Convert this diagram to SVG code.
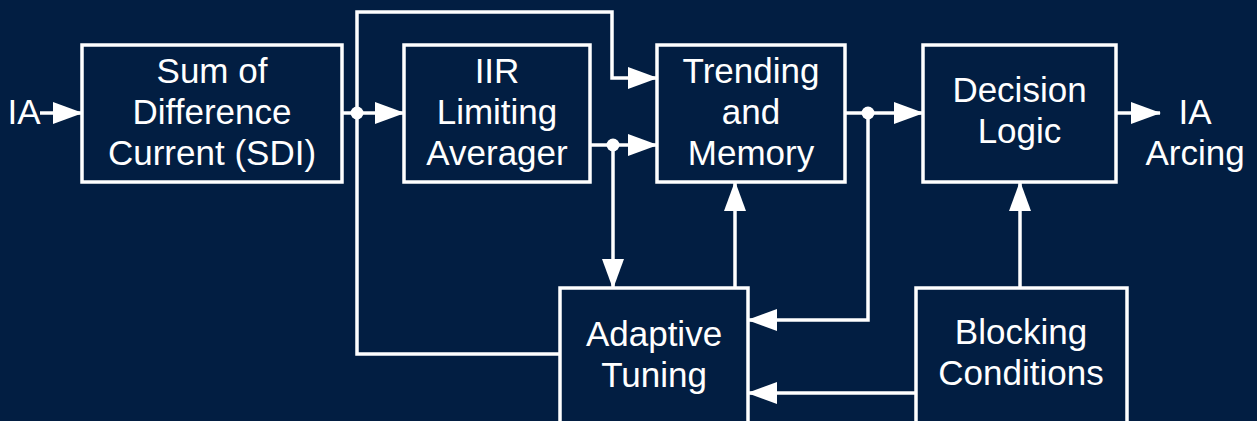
<svg xmlns="http://www.w3.org/2000/svg" width="1257" height="421" viewBox="0 0 1257 421">
<style>
.box{fill:#021E42;stroke:#FFFFFF;stroke-width:3.5}
.t{font-family:"Liberation Sans",Arial,sans-serif;font-size:35px;fill:#FFFFFF;text-anchor:middle}
.c{fill:none;stroke:#FFFFFF;stroke-width:3.5;marker-end:url(#ah)}
.dot{fill:#FFFFFF}
</style>
<defs>
<marker id="ah" markerUnits="userSpaceOnUse" markerWidth="30" markerHeight="22" refX="29" refY="11" orient="auto">
<path d="M0,0 L30,11 L0,22 Z" fill="#FFFFFF"/>
</marker>
</defs>
<rect x="0" y="0" width="1257" height="421" fill="#021E42"/>
<g id="connectors">
<path class="c" d="M40,113 H82"/>
<path class="c" d="M342,113 H404"/>
<path class="c" d="M560,354 H357 V12 H612 V78 H657"/>
<path class="c" d="M590,145 H657"/>
<path class="c" d="M613,145 V288"/>
<path class="c" d="M735,288 V182"/>
<path class="c" d="M845,113 H923"/>
<path class="c" d="M868,113 V320 H748"/>
<path class="c" d="M1116,113 H1160"/>
<path class="c" d="M1020,288 V182"/>
<path class="c" d="M916,393 H748"/>
<circle class="dot" cx="357" cy="113" r="6.5"/>
<circle class="dot" cx="613" cy="145" r="6.5"/>
<circle class="dot" cx="868" cy="113" r="6.5"/>
</g>
<g id="input">
<text class="t" x="24" y="124">IA</text>
</g>
<g id="sdi">
<rect class="box" x="82" y="45" width="260" height="137"/>
<text class="t" x="212" y="83">Sum of</text>
<text class="t" x="212" y="124">Difference</text>
<text class="t" x="212" y="165">Current (SDI)</text>
</g>
<g id="iir">
<rect class="box" x="404" y="45" width="186" height="137"/>
<text class="t" x="497" y="83">IIR</text>
<text class="t" x="497" y="124">Limiting</text>
<text class="t" x="497" y="165">Averager</text>
</g>
<g id="trending">
<rect class="box" x="657" y="45" width="188" height="137"/>
<text class="t" x="751" y="83">Trending</text>
<text class="t" x="751" y="124">and</text>
<text class="t" x="751" y="165">Memory</text>
</g>
<g id="decision">
<rect class="box" x="923" y="45" width="193" height="137"/>
<text class="t" x="1019.5" y="102">Decision</text>
<text class="t" x="1019.5" y="143">Logic</text>
</g>
<g id="output">
<text class="t" x="1195" y="124">IA</text>
<text class="t" x="1195" y="165">Arcing</text>
</g>
<g id="adaptive">
<rect class="box" x="560" y="288" width="188" height="150"/>
<text class="t" x="654" y="346">Adaptive</text>
<text class="t" x="654" y="387">Tuning</text>
</g>
<g id="blocking">
<rect class="box" x="916" y="288" width="211" height="150"/>
<text class="t" x="1021" y="344">Blocking</text>
<text class="t" x="1021" y="385">Conditions</text>
</g>
</svg>
